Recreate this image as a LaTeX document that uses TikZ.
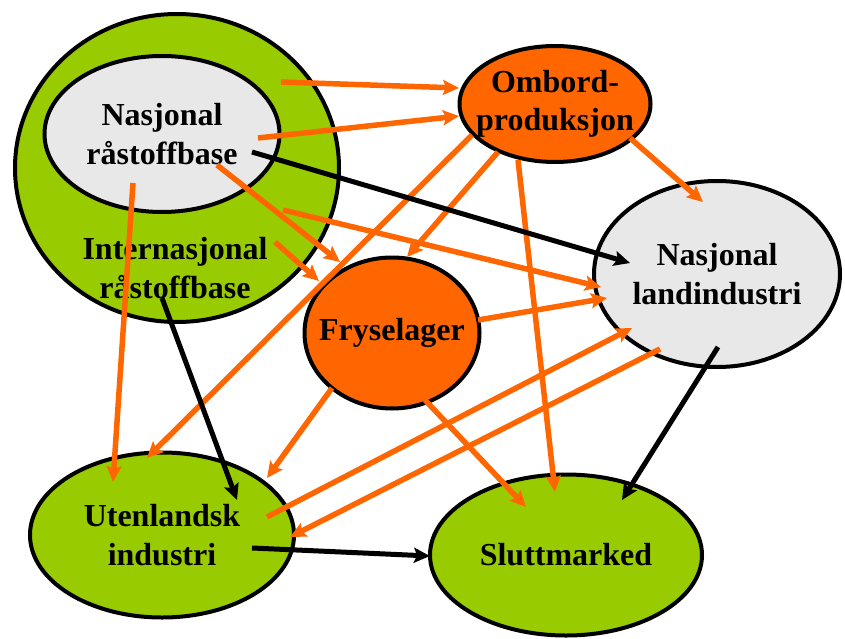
\documentclass[tikz,border=0pt]{standalone}
\usepackage{fontspec}
\setmainfont{Liberation Serif}
\usetikzlibrary{shapes.geometric,arrows.meta}
\definecolor{lgreen}{HTML}{99CC00}
\definecolor{orng}{HTML}{FF6600}
\definecolor{lgray}{HTML}{E8E8E8}
\begin{document}
\begin{tikzpicture}[x=1pt,y=-1pt,
  txt/.style={align=center,inner sep=0pt,font=\fontsize{32}{38.4}\selectfont\bfseries},
  blob/.style={ellipse,draw=black,line width=4pt,txt,inner sep=-45pt},
  oarr/.style={draw=orng,line width=5.5pt,-{Stealth[length=16pt,width=15pt,inset=3pt]}},
  barr/.style={draw=black,line width=5pt,-{Stealth[length=16pt,width=15pt,inset=3pt]}}]
\useasboundingbox (0,0) rectangle (845,639);
% shapes
\node[blob,fill=lgreen,minimum width=324pt,minimum height=308pt] (int) at (177,168) {};
\node[blob,fill=lgray,minimum width=235pt,minimum height=156pt] (nra) at (162,134) {Nasjonal\\råstoffbase};
\node[txt] (intlbl) at (175,268) {Internasjonal\\råstoffbase};
\node[blob,fill=orng,minimum width=191pt,minimum height=116pt] (omb) at (555,104) {Ombord-\\produksjon};
\node[blob,fill=lgray,minimum width=246pt,minimum height=186pt] (lan) at (717,274) {Nasjonal\\landindustri};
\node[blob,fill=orng,minimum width=175pt,minimum height=151pt] (fry) at (392,333) {Fryselager};
\node[blob,fill=lgreen,minimum width=264pt,minimum height=165pt] (ute) at (162,535) {Utenlandsk\\industri};
\node[blob,fill=lgreen,minimum width=272pt,minimum height=161pt] (slu) at (566,555) {Sluttmarked};
% orange arrows
\draw[oarr] ([shift={(104,-86)}]int.center) -- ([shift={(-96,-16)}]omb.center);
\draw[oarr] ([shift={(96,4)}]nra.center) -- ([shift={(-96,12)}]omb.center);
\draw[oarr] ([shift={(-83,31)}]omb.center) -- ([shift={(-15,-77)}]ute.center);
\draw[oarr] ([shift={(-57,48)}]omb.center) -- ([shift={(15,-76)}]fry.center);
\draw[oarr] ([shift={(-37,56)}]omb.center) -- ([shift={(-11,-63)}]slu.center);
\draw[oarr] ([shift={(75,34)}]omb.center) -- ([shift={(-14,-72)}]lan.center);
\draw[oarr] ([shift={(55,31)}]nra.center) -- ([shift={(-52,-71)}]fry.center);
\draw[oarr] ([shift={(98,74)}]int.center) -- ([shift={(-73,-52)}]fry.center);
\draw[oarr] ([shift={(106,42)}]int.center) -- ([shift={(-116,13)}]lan.center);
\draw[oarr] ([shift={(86,-13)}]fry.center) -- ([shift={(-110,24)}]lan.center);
\draw[oarr] ([shift={(-29,49)}]nra.center) -- ([shift={(-49,-53)}]ute.center);
\draw[oarr] ([shift={(-60,55)}]fry.center) -- ([shift={(105,-57)}]ute.center);
\draw[oarr] ([shift={(33,67)}]fry.center) -- ([shift={(-40,-48)}]slu.center);
\draw[oarr] ([shift={(105,-18)}]ute.center) -- ([shift={(-85,54)}]lan.center);
\draw[oarr] ([shift={(-57,75)}]lan.center) -- ([shift={(128,2)}]ute.center);
% black arrows
\draw[barr] ([shift={(90,18)}]nra.center) -- ([shift={(-87,-11)}]lan.center);
\draw[barr] ([shift={(-15,130)}]int.center) -- ([shift={(75,-35)}]ute.center);
\draw[barr] ([shift={(90,13)}]ute.center) -- ([shift={(-136,1)}]slu.center);
\draw[barr] ([shift={(1,73)}]lan.center) -- ([shift={(56,-55)}]slu.center);
\end{tikzpicture}
\end{document}
